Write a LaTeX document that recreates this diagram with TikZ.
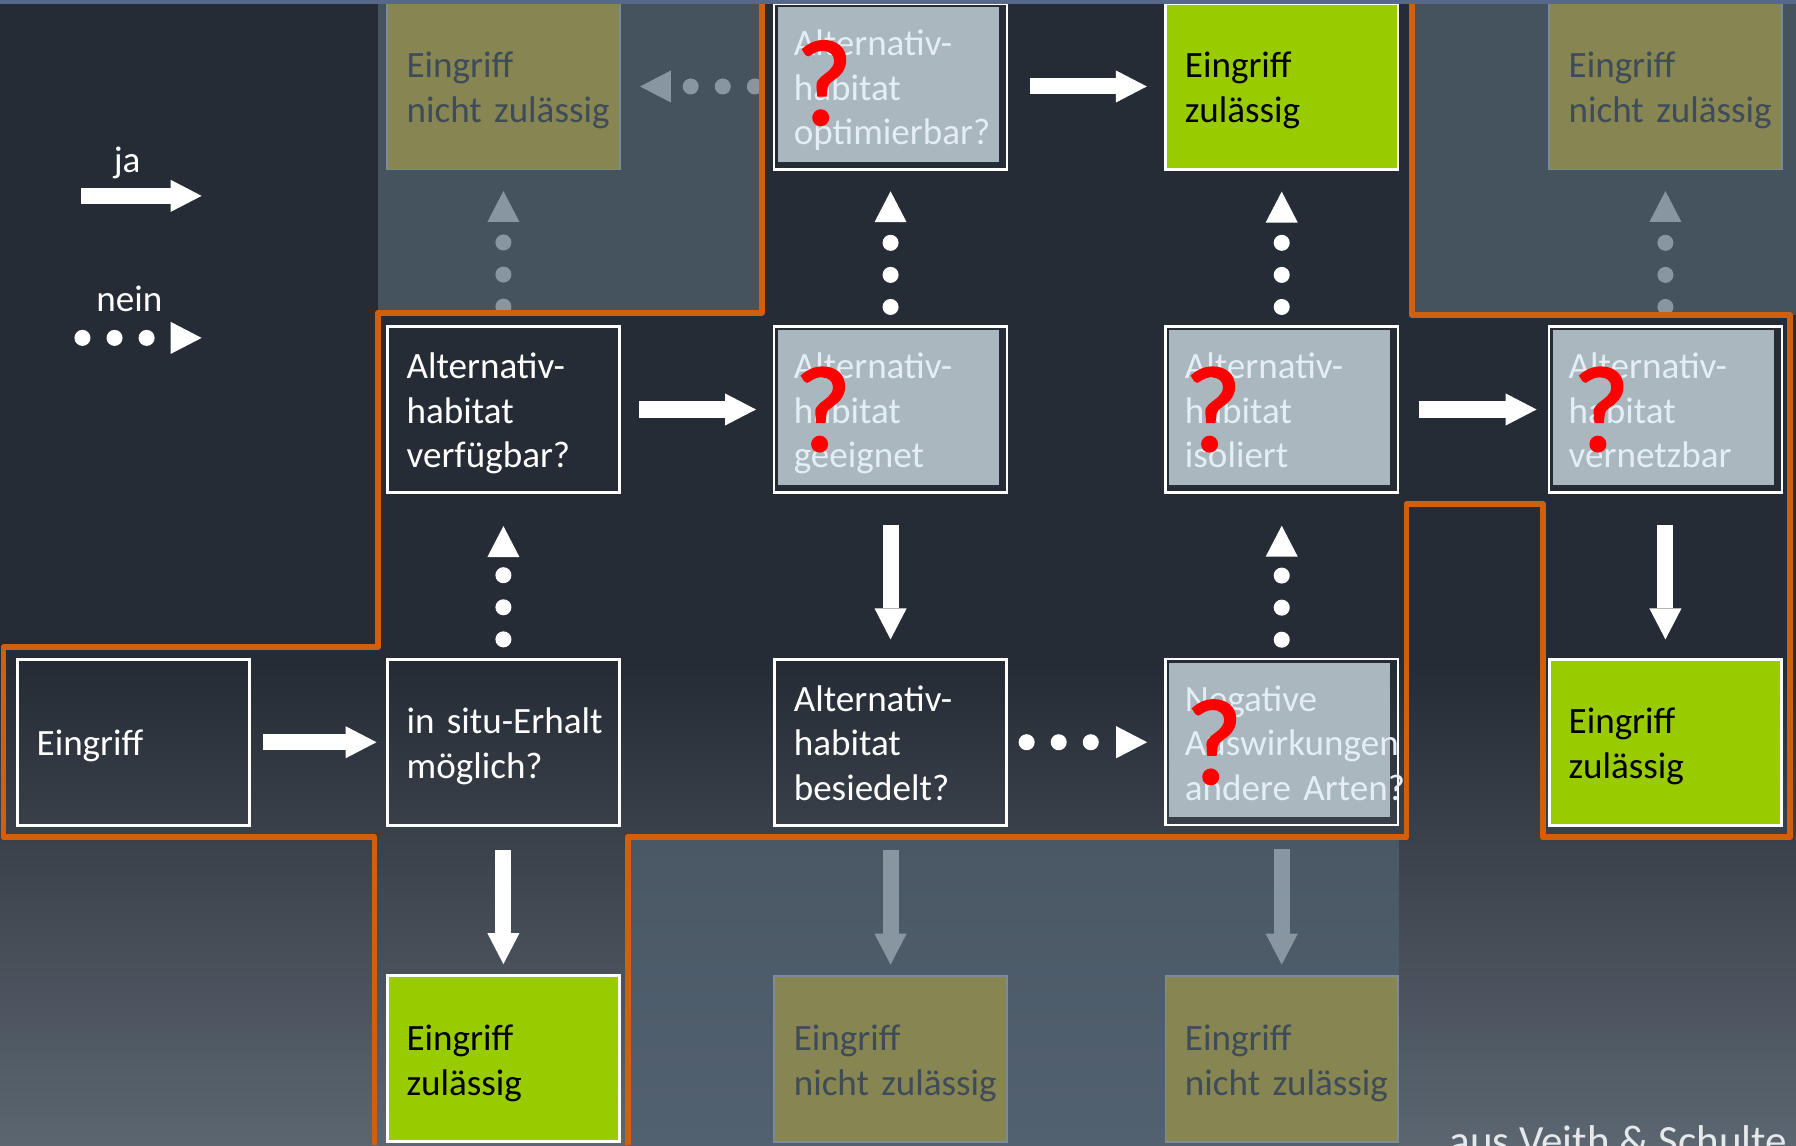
\documentclass[tikz,border=0pt]{standalone}
\usepackage{fontspec}
\setmainfont{Carlito}
\newfontfamily\fzfont[FakeBold=2]{Carlito}
\usetikzlibrary{arrows.meta}

\definecolor{hgdunkel}{HTML}{262C35}
\definecolor{hghell}{HTML}{5C6670}
\definecolor{feld}{HTML}{45535F}
\definecolor{feldoben}{HTML}{4A5865}
\definecolor{feldunten}{HTML}{526170}
\definecolor{rahmen}{HTML}{D0600E}
\definecolor{oliv}{HTML}{878551}
\definecolor{olivtext}{HTML}{3E4B58}
\definecolor{olivrand}{HTML}{7D8B97}
\definecolor{gruen}{HTML}{99CC00}
\definecolor{grau}{HTML}{AAB7BF}
\definecolor{grautext}{HTML}{E4EEF4}
\definecolor{blass}{HTML}{8796A1}
\definecolor{band}{HTML}{56698A}
\definecolor{quelle}{HTML}{E6E9EC}

\hyphenpenalty=10000
\exhyphenpenalty=10000

\begin{document}
\begin{tikzpicture}[%
      x=0.5pt, y=-0.5pt,
      kasten/.style={rectangle, minimum width=101.5pt, minimum height=72.5pt,
        text width=84.5pt, inner xsep=8.5pt, inner ysep=0pt, align=left,
        font=\fontsize{16.2}{19.5}\selectfont,
        execute at begin node={\rule{0pt}{16pt}},
        execute at end node={\rule[-4pt]{0pt}{4pt}}},
      frage/.style={kasten, draw=white, line width=1.3pt, text=white},
      pruef/.style={kasten, draw=white, line width=1pt, text=grautext,
        path picture={\fill[grau]
          ([xshift=1.5pt,yshift=3.5pt]path picture bounding box.south west) rectangle
          ([xshift=-3.5pt,yshift=-1.5pt]path picture bounding box.north east);}},
      zul/.style={kasten, fill=gruen, draw=white, line width=1.3pt, text=black},
      nichtzul/.style={kasten, fill=oliv, draw=olivrand, line width=0.8pt, text=olivtext},
      frz/.style={text=red, inner sep=0pt, font=\fzfont\fontsize{53}{53}\selectfont},
      legende/.style={text=white, inner sep=0pt, font=\fontsize{16.2}{19.5}\selectfont},
      ja/.style={draw=white, line width=7pt,
        -{Triangle[length=13.5pt, width=14pt, line width=0pt]}},
      nein/.style={draw=white, line width=7pt, line cap=round,
        dash pattern=on 0pt off 14pt, dash phase=6pt, shorten >=8.5pt,
        -{Triangle[length=13.5pt, width=14pt, line width=0pt]}},
      orange/.style={draw=rahmen, line width=2.5pt, line join=round},
      ]
      \useasboundingbox (0,0) rectangle (1568,1000);
      \clip (0,0) rectangle (1568,1000);

      % hintergrund und felder
      \fill[hgdunkel] (0,0) rectangle (1568,1000);
      \shade[top color=hgdunkel, bottom color=hghell] (0,580) rectangle (1568,1000);
      \fill[feld] (330,0) rectangle (665,273);
      \fill[feld] (1233,0) rectangle (1568,275);
      \shade[top color=feldoben, bottom color=feldunten] (548,733) rectangle (1221,1000);

      % kaesten
      \node[frage] (eingriff) at (116.5,648) {Eingriff};
      \node[frage] (insitu) at (439.5,648) {\mbox{in situ-Erhalt}\\möglich?};
      \node[frage] (verfuegbar) at (439.5,357.5) {Alternativ-\\habitat\\verfügbar?};
      \node[nichtzul] (nz-a) at (439.5,75.5) {Eingriff\\\mbox{nicht zulässig}};
      \node[zul] (zul-a) at (439.5,924.5) {Eingriff\\zulässig};
      \node[pruef] (optimierbar) at (777.5,75.5) {Alternativ-\\habitat\\optimierbar?};
      \node[pruef] (geeignet) at (777.5,357.5) {Alternativ-\\habitat\\geeignet};
      \node[frage] (besiedelt) at (777.5,648) {Alternativ-\\habitat\\besiedelt?};
      \node[nichtzul] (nz-b) at (777.5,924.5) {Eingriff\\\mbox{nicht zulässig}};
      \node[zul] (zul-b) at (1119,75.5) {Eingriff\\zulässig};
      \node[pruef] (isoliert) at (1119,357.5) {Alternativ-\\habitat\\isoliert};
      \node[pruef] (negativ) at (1119,648) {Negative\\Auswirkungen\\\mbox{andere Arten?}};
      \node[nichtzul] (nz-c) at (1119,924.5) {Eingriff\\\mbox{nicht zulässig}};
      \node[nichtzul] (nz-d) at (1454,75.5) {Eingriff\\\mbox{nicht zulässig}};
      \node[pruef] (vernetzbar) at (1454,357.5) {Alternativ-\\habitat\\vernetzbar};
      \node[zul] (zul-c) at (1454,648) {Eingriff\\zulässig};

      % ja
      \draw[ja, shorten <=5pt, shorten >=4pt] (eingriff.east) -- (insitu.west);
      \draw[ja, shorten <=8pt, shorten >=7.5pt] (verfuegbar.east) -- (geeignet.west);
      \draw[ja, shorten <=9.5pt, shorten >=7.5pt] (optimierbar.east) -- (zul-b.west);
      \draw[ja, shorten <=8.5pt, shorten >=5pt] (isoliert.east) -- (vernetzbar.west);
      \draw[ja, shorten <=10pt, shorten >=4.5pt] (insitu.south) -- (zul-a.north);
      \draw[ja, shorten <=13.5pt, shorten >=8pt] (geeignet.south) -- (besiedelt.north);
      \draw[ja, shorten <=13.5pt, shorten >=8pt] (vernetzbar.south) -- (zul-c.north);
      \draw[ja, draw=blass, shorten <=10pt, shorten >=4.5pt] (besiedelt.south) -- (nz-b.north);
      \draw[ja, draw=blass, shorten <=10pt, shorten >=4.5pt] (negativ.south) -- (nz-c.north);

      % nein
      \draw[nein, shorten >=14pt] (insitu.north) -- (verfuegbar.south);
      \draw[nein, draw=blass, shorten >=9pt] (verfuegbar.north) -- (nz-a.south);
      \draw[nein, shorten >=9pt] (geeignet.north) -- (optimierbar.south);
      \draw[nein, shorten >=9pt] (isoliert.north) -- (zul-b.south);
      \draw[nein, draw=blass, shorten >=9pt] (vernetzbar.north) -- (nz-d.south);
      \draw[nein, shorten >=14pt] (negativ.north) -- (isoliert.south);
      \draw[nein, shorten >=7.5pt] (besiedelt.east) -- (negativ.west);
      \draw[nein, draw=blass, shorten >=8.5pt] (optimierbar.west) -- (nz-a.east);

      % fragezeichen
      \node[frz] (fz-optimierbar) at ([xshift=-29pt,yshift=1.5pt]optimierbar.center) {?};
      \node[frz] (fz-geeignet) at ([xshift=-29.5pt]geeignet.center) {?};
      \node[frz] (fz-isoliert) at ([xshift=-30pt]isoliert.center) {?};
      \node[frz] (fz-negativ) at ([xshift=-29.5pt]negativ.center) {?};
      \node[frz] (fz-vernetzbar) at ([xshift=-28pt]vernetzbar.center) {?};

      % legende
      \coordinate (ja-start) at (71,171);
      \coordinate (ja-ende) at (176,171);
      \draw[ja] (ja-start) -- (ja-ende);
      \node[legende, anchor=base] (ja-text) at (111,151) {ja};
      \coordinate (nein-start) at (56,295);
      \coordinate (nein-ende) at (176,295);
      \draw[nein, shorten >=0pt] (nein-start) -- (nein-ende);
      \node[legende, anchor=base] (nein-text) at (113,272) {nein};

      % orange linien
      \draw[orange] (665,0) -- (665,273) -- (330,273) -- (330,565) -- (3,565)
        -- (3,731) -- (327,731) -- (327,1000);
      \draw[orange] (548,1000) -- (548,731) -- (1228,731) -- (1228,440) -- (1347,440)
        -- (1347,731) -- (1563,731) -- (1563,275) -- (1233,275) -- (1233,0);

      \fill[band] (0,0) rectangle (1568,3.5);
      \node[anchor=base west, text=quelle, inner sep=0pt,
        font=\fontsize{18.8}{22}\selectfont] (quelle) at (1265,1009) {aus Veith \& Schulte 1};
\end{tikzpicture}
\end{document}
